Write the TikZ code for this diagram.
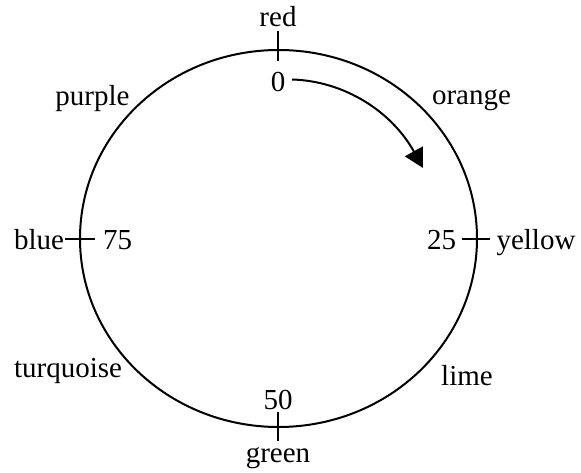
\documentclass[tikz,border=0pt]{standalone}
\usepackage{fontspec}
\setmainfont{Liberation Serif}
\usetikzlibrary{arrows.meta}
\begin{document}
\begin{tikzpicture}[x=1pt,y=-1pt,
  lbl/.style={anchor=base,inner sep=0pt,font=\fontsize{29}{32}\selectfont},
  rim/.style={line width=2pt},
  tick/.style={line width=2pt},
  turn/.style={line width=2pt,-{Triangle[length=19pt,width=20pt]}}]
\useasboundingbox (0,0) rectangle (581,473);
\coordinate (c) at (278.5,238.5);
\draw[rim] (c) ellipse [x radius=198.5, y radius=188.5];
% ticks
\coordinate (t0a) at (278,31); \coordinate (t0b) at (278,61);
\coordinate (t50a) at (278,412); \coordinate (t50b) at (278,441);
\coordinate (t75a) at (65,239); \coordinate (t75b) at (95,239);
\coordinate (t25a) at (462,239); \coordinate (t25b) at (490,239);
\draw[tick] (t0a) -- (t0b);
\draw[tick] (t50a) -- (t50b);
\draw[tick] (t75a) -- (t75b);
\draw[tick] (t25a) -- (t25b);
% labels
\node[lbl] (red) at (278,27) {red};
\node[lbl] (green) at (278,462) {green};
\node[lbl] (blue) at (39,249) {blue};
\node[lbl] (yellow) at (536,250) {yellow};
\node[lbl] (purple) at (92.5,106) {purple};
\node[lbl] (orange) at (471.5,104.5) {orange};
\node[lbl] (turquoise) at (68,377) {turquoise};
\node[lbl] (lime) at (467,385) {lime};
\node[lbl] (n0) at (278,91.5) {0};
\node[lbl] (n50) at (278,409) {50};
\node[lbl] (n75) at (117.5,249) {75};
\node[lbl] (n25) at (441.5,250) {25};
% arrow
\coordinate (as) at (292,79.5);
\coordinate (ae) at (423,168);
\draw[turn] (as) .. controls (345,81) and (392,112) .. (ae);
\end{tikzpicture}
\end{document}
